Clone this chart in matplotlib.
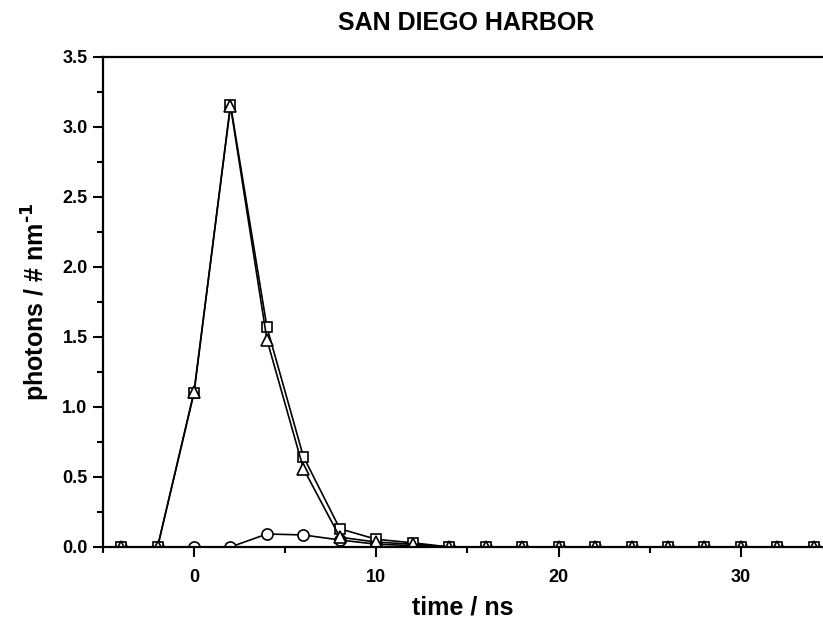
import matplotlib
matplotlib.use("Agg")
import matplotlib.pyplot as plt
from matplotlib.ticker import MultipleLocator, FormatStrFormatter

plt.rcParams['font.family'] = ['Liberation Sans', 'DejaVu Sans']
plt.rcParams['font.weight'] = 'bold'
plt.rcParams['mathtext.default'] = 'bf'

# time axis (ns)
time_ns = [-4, -2, 0, 2, 4, 6, 8, 10, 12, 14, 16, 18, 20, 22, 24, 26, 28, 30, 32, 34]

# series
squares = [0, 0, 1.10, 3.16, 1.57, 0.645, 0.13, 0.055, 0.03, 0, 0, 0, 0, 0, 0, 0, 0, 0, 0, 0]
triangles = [0, 0, 1.11, 3.15, 1.48, 0.56, 0.07, 0.035, 0.02, 0, 0, 0, 0, 0, 0, 0, 0, 0, 0, 0]
circles = [0, 0, 0, 0, 0.093, 0.086, 0.05, 0.02, 0.01, 0, 0, 0, 0, 0, 0, 0, 0, 0, 0, 0]

fig = plt.figure(figsize=(8.23, 6.24), dpi=100)
ax = fig.add_axes([0.125, 0.1234, 0.875, 0.7853])

style = dict(color='black', lw=1.2, mfc='white', mec='black', mew=1.2)
ax.plot(time_ns, circles, marker='o', ms=8, **style)
ax.plot(time_ns, squares, marker='s', ms=7.5, **style)
ax.plot(time_ns, triangles, marker='^', ms=8.5, **style)

ax.set_xlim(-5, 34.5)
ax.set_ylim(0, 3.5)
ax.xaxis.set_major_locator(MultipleLocator(10))
ax.xaxis.set_minor_locator(MultipleLocator(5))
ax.yaxis.set_major_locator(MultipleLocator(0.5))
ax.yaxis.set_minor_locator(MultipleLocator(0.25))
ax.yaxis.set_major_formatter(FormatStrFormatter('%.1f'))

ax.spines['right'].set_visible(False)
for s in ['left', 'bottom', 'top']:
    ax.spines[s].set_linewidth(1.6)
ax.tick_params(which='major', direction='out', length=7, width=1.5, labelsize=13, pad=4)
ax.tick_params(which='minor', direction='out', length=4, width=1.5)
ax.tick_params(axis='x', which='major', pad=9)
ax.tick_params(axis='x', which='both', top=False)
for lab in ax.get_xticklabels() + ax.get_yticklabels():
    lab.set_fontweight('bold')

ax.set_xlabel('time / ns', fontsize=18, fontweight='bold', labelpad=7)
ax.set_ylabel('photons / # nm$^{\\text{-1}}$', fontsize=18, fontweight='bold', labelpad=7)
fig.text(466 / 823, 1 - 23 / 624, 'SAN DIEGO HARBOR', ha='center', va='center',
         fontsize=18, fontweight='bold')

fig.savefig('out.png', dpi=100)
